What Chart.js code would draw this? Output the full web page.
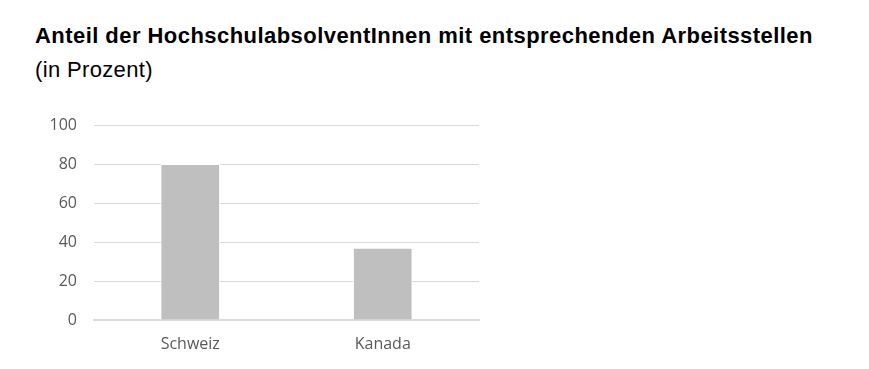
<!DOCTYPE html>
<html>
<head>
<meta charset="utf-8">
<script src="https://cdn.jsdelivr.net/npm/chart.js@4.4.1/dist/chart.umd.min.js"></script>
<style>
  html, body { margin: 0; padding: 0; background: #fff; }
  #wrap { position: relative; width: 869px; height: 369px; overflow: hidden; }
  #title { position: absolute; left: 35px; top: 23px; font: bold 22px "Liberation Sans", Arial, sans-serif; letter-spacing: 0.45px; color: #000; white-space: nowrap; line-height: 26px; }
  #subtitle { position: absolute; left: 35px; top: 57px; font: 22px "Liberation Sans", Arial, sans-serif; letter-spacing: 0.35px; color: #000; white-space: nowrap; line-height: 26px; }
  #chart { position: absolute; left: 0; top: 0; }
</style>
</head>
<body>
<div id="wrap">
  <div id="title">Anteil der HochschulabsolventInnen mit entsprechenden Arbeitsstellen</div>
  <div id="subtitle">(in Prozent)</div>
  <canvas id="chart" width="869" height="369"></canvas>
</div>
<script>
// Daten
var laender = ['Schweiz', 'Kanada'];
var anteil = [80, 37];
var yTicks = [0, 20, 40, 60, 80, 100];

var ctx = document.getElementById('chart').getContext('2d');

var chart = new Chart(ctx, {
    type: 'bar',
    data: {
        labels: laender,
        datasets: [{
            label: 'Anteil',
            data: anteil,
            backgroundColor: '#bfbfbf',
            borderColor: '#ffffff',
            borderWidth: 1,
            barPercentage: 0.31,
            categoryPercentage: 1
        }]
    },
    options: {
        responsive: false,
        animation: false,
        layout: {
            padding: { left: 20, right: 390, top: 125, bottom: 19 }
        },
        plugins: {
            legend: { display: false },
            tooltip: { enabled: false }
        },
        scales: {
            x: {
                grid: { display: false, drawTicks: false },
                border: { display: true, color: '#d9d9d9', width: 2 },
                ticks: {
                    padding: 15,
                    color: '#595959',
                    font: { family: '"Open Sans", sans-serif', size: 16 }
                },
                afterFit: function (scale) { scale.height = 30; }
            },
            y: {
                min: 0,
                max: 100,
                afterBuildTicks: function (scale) {
                    scale.ticks = yTicks.map(function (v) { return { value: v }; });
                },
                grid: { color: '#d9d9d9', lineWidth: 1, drawTicks: false },
                border: { display: false },
                ticks: {
                    padding: 17,
                    color: '#595959',
                    font: { family: '"Open Sans", sans-serif', size: 16 }
                },
                afterFit: function (scale) { scale.width = 74; }
            }
        }
    }
});
</script>
</body>
</html>
